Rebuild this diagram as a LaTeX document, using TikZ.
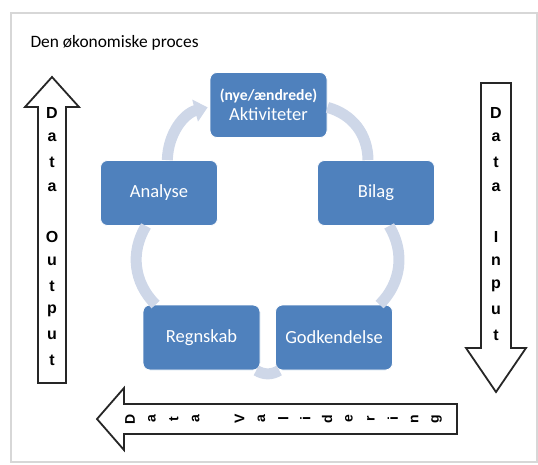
\documentclass[tikz,border=0pt]{standalone}
\usepackage{fontspec}
\setmainfont{Carlito}
\newfontfamily\arrowfont{Liberation Sans}
\usetikzlibrary{arrows.meta}
\definecolor{boxblue}{RGB}{79,129,189}
\definecolor{ringblue}{RGB}{206,215,232}
\definecolor{framegray}{RGB}{215,215,215}

\begin{document}
\begin{tikzpicture}[x=1pt, y=-1pt,
  proc/.style={draw=white, line width=0.8pt, fill=boxblue, rounded corners=7pt,
    text=white, minimum width=117pt, minimum height=65pt, align=center,
    font=\fontsize{18.5}{20}\selectfont},
  ring/.style={draw=ringblue, line width=11pt, bend left=#1},
  blockarrow/.style={draw=black!85, line width=1.8pt, fill=white},
  vletter/.style={font=\arrowfont\bfseries\fontsize{16}{16}\selectfont, inner sep=0pt},
  hletter/.style={font=\arrowfont\bfseries\fontsize{14}{14}\selectfont, inner sep=0pt, rotate=90}]

  \useasboundingbox (0,0) rectangle (538,464);
  \draw[framegray, line width=1.5pt] (11,13) rectangle (537,462);
  \node[anchor=base west, font=\fontsize{17.4}{19}\selectfont] (title) at (27,47) {Den økonomiske proces};

  % the cycle
  \node[proc] (akt) at (268.5,105) {{\fontsize{15.6}{17}\selectfont\bfseries (nye/ændrede)}\\Aktiviteter};
  \node[proc] (bilag) at (376,193) {Bilag};
  \node[proc] (godk) at (334,337.5) {Godkendelse};
  \node[proc] (regn) at (201.5,337.5) {Regnskab};
  \node[proc] (analyse) at (159,193) {Analyse};

  \draw[ring=37] (akt) to (bilag);
  \draw[ring=38] (bilag) to (godk);
  \draw[ring=31] (godk) to (regn);
  \draw[ring=38] (regn) to (analyse);
  \draw[ring=37, -{Triangle[width=22pt,length=13pt]}, shorten >=2pt] (analyse) to (akt);

  % data output
  \draw[blockarrow] (38,383) -- (38,107) -- (25,107) -- (52,77) -- (79,107) -- (66,107) -- (66,383) -- cycle;
  \foreach \ch [count=\i from 0] in {D,a,t,a,{},O,u,t,p,u,t}
    \node[vletter] (out\i) at (52,113+24.7*\i) {\ch};

  % data input
  \draw[blockarrow] (481,83) -- (511,83) -- (511,348) -- (526,348) -- (496,392) -- (466,348) -- (481,348) -- cycle;
  \foreach \ch [count=\i from 0] in {D,a,t,a,{},I,n,p,u,t}
    \node[vletter] (in\i) at (496,113+24.7*\i) {\ch};

  % data validering
  \draw[blockarrow] (457,404) -- (457,434) -- (124,434) -- (124,450) -- (97,419) -- (124,388) -- (124,404) -- cycle;
  \foreach \ch [count=\i from 0] in {D,a,t,a,{},V,a,l,i,d,e,r,i,n,g}
    \node[hletter] (val\i) at (130+21.9*\i,419) {\ch};
\end{tikzpicture}
\end{document}
